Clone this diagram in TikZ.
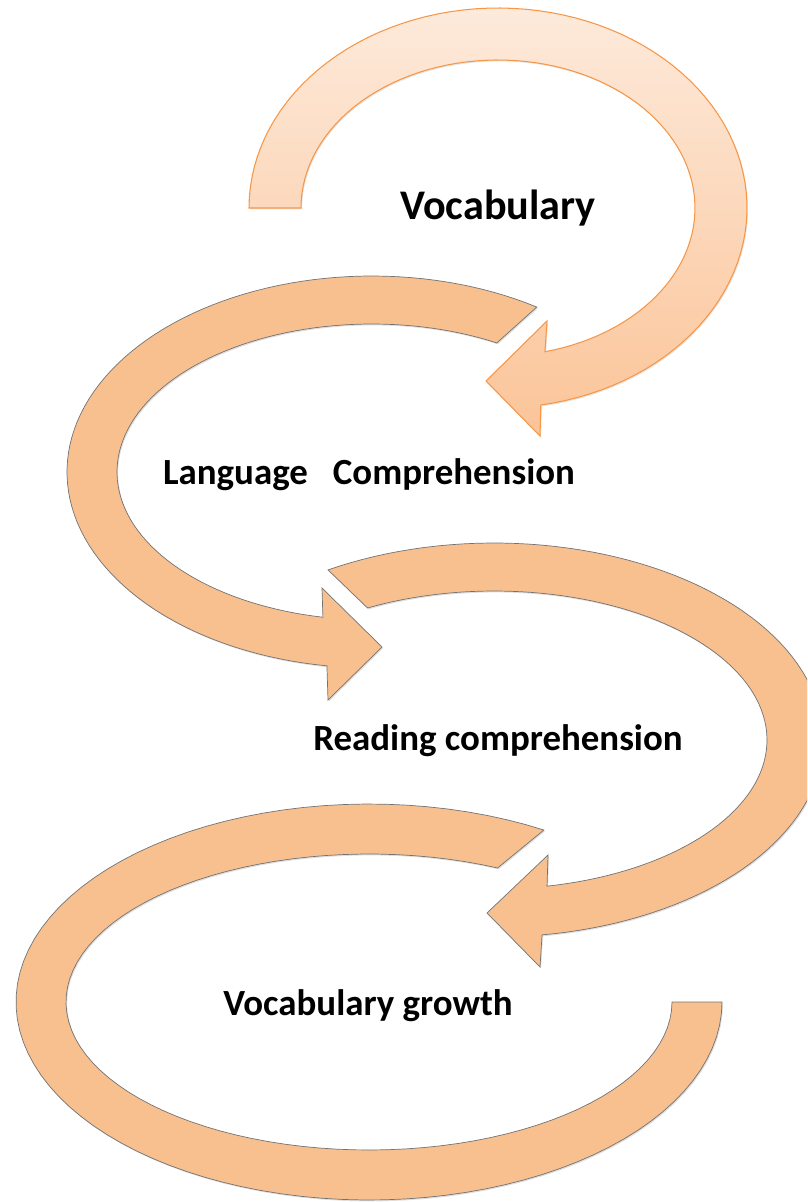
\documentclass[tikz,border=0pt]{standalone}
\usepackage{fontspec}
\setmainfont{Carlito}
\usetikzlibrary{shadows}
\definecolor{peach}{RGB}{249,192,143}
\definecolor{peachtop}{RGB}{253,234,219}
\definecolor{peachbot}{RGB}{251,196,152}
\definecolor{orangeline}{RGB}{247,150,70}

\begin{document}
\begin{tikzpicture}[x=0.02cm,y=-0.02cm,
    band/.style={fill=peach,draw=black!55,line width=0.4pt,line join=miter,
      drop shadow={shadow xshift=0.6pt,shadow yshift=-0.8pt,opacity=0.25}},
    topband/.style={top color=peachtop,bottom color=peachbot,draw=orangeline,line width=0.6pt,
      drop shadow={shadow xshift=0.6pt,shadow yshift=-0.8pt,opacity=0.2}},
    lbl/.style={anchor=base,font=\bfseries\fontsize{21}{25}\selectfont,inner sep=0pt}]
        \useasboundingbox (0,0) rectangle (807,1202);
        \clip (0,0) rectangle (807,1202);

        \draw[topband] plot[domain=180:440.1,samples=90] ({498+249*cos(\x)},{208+200*sin(\x)})
            -- (540,436) -- (486,381) -- (547,321)
            -- plot[domain=436.2:180,samples=90] ({498+197*cos(\x)},{208+148*sin(\x)}) -- cycle;

        \draw[band] plot[domain=302.7:98.5,samples=90] ({372+305*cos(\x)},{472+196*sin(\x)})
            -- (328,700) -- (382,647) -- (322,588)
            -- plot[domain=101.1:299.3,samples=90] ({372+255*cos(\x)},{472+148*sin(\x)}) -- cycle;

        \draw[band] plot[domain=239.7:441.6,samples=90] ({494+329*cos(\x)},{740+197*sin(\x)})
            -- (540,967) -- (487,913) -- (548,855)
            -- plot[domain=438.8:242.4,samples=90] ({494+273*cos(\x)},{740+149*sin(\x)}) -- cycle;

        \draw[band] plot[domain=299.7:0,samples=90] ({369+353*cos(\x)},{1002+198*sin(\x)})
            -- plot[domain=0:295.1,samples=90] ({369+303*cos(\x)},{1002+148*sin(\x)}) -- cycle;

        \node[lbl,font=\bfseries\fontsize{24}{28}\selectfont] at (498,220) (V) {Vocabulary};
        \node[lbl] at (369,484) (L) {Language~~~Comprehension};
        \node[lbl] at (498,750) (R) {Reading comprehension};
        \node[lbl] at (368,1015) (G) {Vocabulary growth};
\end{tikzpicture}
\end{document}
